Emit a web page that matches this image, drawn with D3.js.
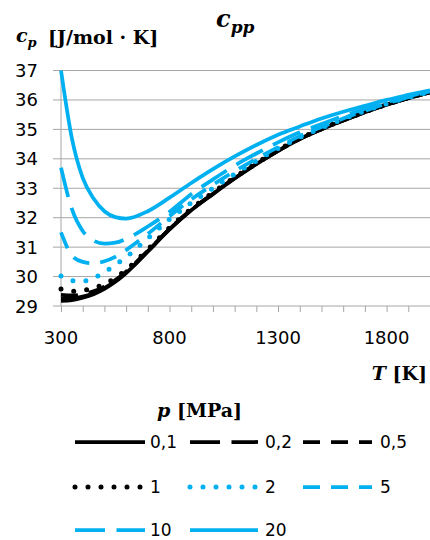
<!DOCTYPE html>
<html>
<head>
<meta charset="utf-8">
<script src="https://cdn.jsdelivr.net/npm/d3@7"></script>
<style>
  body { margin: 0; background: #fff; }
  svg { display: block; }
</style>
</head>
<body>
<svg id="chart" width="430" height="540"></svg>
<script>
// temperatures [K]
var temps = [300, 350, 400, 450, 500, 550, 600, 700, 800, 900, 1000, 1100, 1200, 1300, 1400, 1500, 1600, 1700, 1800, 1900, 2000];

// cp [J/mol K] for each pressure
var p01 = [29.17, 29.2, 29.28, 29.4, 29.58, 29.82, 30.12, 30.85, 31.6, 32.25, 32.8, 33.33, 33.82, 34.27, 34.67, 35.0, 35.3, 35.58, 35.84, 36.06, 36.26];
var p02 = [29.25, 29.26, 29.32, 29.43, 29.61, 29.84, 30.14, 30.86, 31.61, 32.26, 32.81, 33.34, 33.82, 34.27, 34.67, 35.0, 35.3, 35.58, 35.84, 36.06, 36.26];
var p05 = [29.38, 29.36, 29.4, 29.5, 29.66, 29.88, 30.17, 30.88, 31.62, 32.27, 32.82, 33.35, 33.83, 34.28, 34.68, 35.01, 35.31, 35.59, 35.84, 36.06, 36.26];
var p1  = [29.58, 29.5, 29.53, 29.6, 29.75, 29.95, 30.23, 30.92, 31.66, 32.3, 32.85, 33.37, 33.85, 34.3, 34.69, 35.02, 35.32, 35.59, 35.85, 36.07, 36.27];
var p2  = [30.02, 29.86, 29.85, 29.95, 30.15, 30.4, 30.66, 31.3, 31.95, 32.5, 33.0, 33.48, 33.93, 34.35, 34.73, 35.05, 35.35, 35.62, 35.87, 36.08, 36.28];
var p5  = [31.5, 30.72, 30.5, 30.45, 30.52, 30.67, 30.9, 31.45, 32.05, 32.62, 33.12, 33.58, 34.0, 34.4, 34.77, 35.08, 35.37, 35.63, 35.88, 36.09, 36.29];
var p10 = [33.7, 32.3, 31.55, 31.22, 31.12, 31.15, 31.28, 31.7, 32.2, 32.8, 33.3, 33.77, 34.18, 34.56, 34.9, 35.18, 35.45, 35.7, 35.93, 36.12, 36.3];
var p20 = [37.0, 34.7, 33.35, 32.65, 32.22, 32.02, 31.97, 32.22, 32.68, 33.18, 33.65, 34.08, 34.47, 34.82, 35.1, 35.37, 35.6, 35.8, 36.0, 36.17, 36.33];

var seriesNames = ["0,1", "0,2", "0,5", "1", "2", "5", "10", "20"];
var seriesValues = [p01, p02, p05, p1, p2, p5, p10, p20];

var xTicks = [300, 800, 1300, 1800];
var yTicks = [29, 30, 31, 32, 33, 34, 35, 36, 37];

var black = "#000000", blue = "#00B0F0";
var styles = [
    {color: black, dash: null, cap: "butt", w: 3.75},
    {color: black, dash: "30,11.5", cap: "butt", w: 3.75},
    {color: black, dash: "17,11", cap: "butt", w: 3.75},
    {color: black, dash: "0,13", cap: "round", w: 5},
    {color: blue, dash: "0,13", cap: "round", w: 5},
    {color: blue, dash: "17,11", cap: "butt", w: 3.75},
    {color: blue, dash: "30,11.5", cap: "butt", w: 3.75},
    {color: blue, dash: null, cap: "butt", w: 3.75}
];

var svg = d3.select("#chart");
var tickFont = "'DejaVu Sans', sans-serif";
var serif = "'DejaVu Serif', 'Liberation Serif', serif";
var gridColor = "#a6a6a6";

var x = d3.scaleLinear().domain([300, 2000]).range([61, 430]);
var y = d3.scaleLinear().domain([29, 37]).range([306, 70.5]);

// horizontal gridlines (with short tick to the left)
svg.append("g").selectAll("line")
    .data(yTicks)
    .enter().append("line")
    .attr("x1", 53).attr("x2", 430)
    .attr("y1", function(d) { return y(d); })
    .attr("y2", function(d) { return y(d); })
    .attr("stroke", gridColor).attr("stroke-width", 1);

// y axis line
svg.append("line")
    .attr("x1", x(300)).attr("x2", x(300))
    .attr("y1", y(37)).attr("y2", y(29))
    .attr("stroke", gridColor).attr("stroke-width", 1);

// x axis ticks every 100 K
svg.append("g")
    .attr("transform", "translate(0," + y(29) + ")")
    .call(d3.axisBottom(x).tickValues(d3.range(300, 2001, 100)).tickSize(6).tickFormat(""))
    .call(function(g) {
        g.select(".domain").remove();
        g.selectAll("line").attr("stroke", gridColor);
    });

// x tick labels
svg.append("g").selectAll("text")
    .data(xTicks)
    .enter().append("text")
    .attr("x", function(d) { return x(d); })
    .attr("y", 344)
    .attr("text-anchor", "middle")
    .attr("font-family", tickFont)
    .attr("font-size", "18px")
    .attr("fill", "#000")
    .text(function(d) { return d; });

// y tick labels
svg.append("g").selectAll("text")
    .data(yTicks)
    .enter().append("text")
    .attr("x", 38)
    .attr("y", function(d) { return y(d) + 6.5; })
    .attr("text-anchor", "end")
    .attr("font-family", tickFont)
    .attr("font-size", "18px")
    .attr("fill", "#000")
    .text(function(d) { return d; });

// curves
var line = d3.line()
    .x(function(d) { return x(d[0]); })
    .y(function(d) { return y(d[1]); })
    .curve(d3.curveMonotoneX);

seriesValues.forEach(function(vals, i) {
    var pts = temps.map(function(t, j) { return [t, vals[j]]; });
    var st = styles[i];
    svg.append("path")
        .attr("d", line(pts))
        .attr("fill", "none")
        .attr("stroke", st.color)
        .attr("stroke-width", st.w)
        .attr("stroke-linecap", st.cap)
        .attr("stroke-dasharray", st.dash);
});

// chart title
var title = svg.append("text")
    .attr("x", 216).attr("y", 27)
    .attr("font-family", serif)
    .attr("font-weight", "bold")
    .attr("font-style", "italic");
title.append("tspan").attr("font-size", "24px").text("c");
title.append("tspan").attr("font-size", "17px").attr("dy", 6).text("pp");

// y axis title
var yt = svg.append("text")
    .attr("x", 16).attr("y", 42)
    .attr("font-family", serif)
    .attr("font-weight", "bold")
    .attr("font-style", "italic");
yt.append("tspan").attr("font-size", "19px").text("c");
yt.append("tspan").attr("font-size", "13px").attr("dy", 5).text("p");
svg.append("text")
    .attr("x", 48).attr("y", 44)
    .attr("font-family", serif)
    .attr("font-weight", "bold")
    .attr("font-size", "19px")
    .text("[J/mol · K]");

// x axis title
var xt = svg.append("text")
    .attr("x", 427).attr("y", 380)
    .attr("text-anchor", "end")
    .attr("font-family", serif)
    .attr("font-weight", "bold")
    .attr("font-size", "19px");
xt.append("tspan").attr("font-style", "italic").text("T");
xt.append("tspan").text(" [K]");

// legend
var lt = svg.append("text")
    .attr("x", 157).attr("y", 417)
    .attr("font-family", serif)
    .attr("font-weight", "bold")
    .attr("font-size", "19px");
lt.append("tspan").attr("font-style", "italic").text("p");
lt.append("tspan").text("  [MPa]");

var colX = [[75, 145, 150], [190, 258, 265], [303, 372, 380]];
var rowY = [442, 487, 530];

seriesNames.forEach(function(name, i) {
    var c = colX[i % 3], r = rowY[Math.floor(i / 3)];
    var st = styles[i];
    svg.append("line")
        .attr("x1", c[0]).attr("x2", c[1])
        .attr("y1", r).attr("y2", r)
        .attr("stroke", st.color)
        .attr("stroke-width", st.w)
        .attr("stroke-linecap", st.cap)
        .attr("stroke-dasharray", st.dash);
    svg.append("text")
        .attr("x", c[2]).attr("y", r + 5.5)
        .attr("font-family", tickFont)
        .attr("font-size", "17px")
        .attr("fill", "#000")
        .text(name);
});
</script>
</body>
</html>
